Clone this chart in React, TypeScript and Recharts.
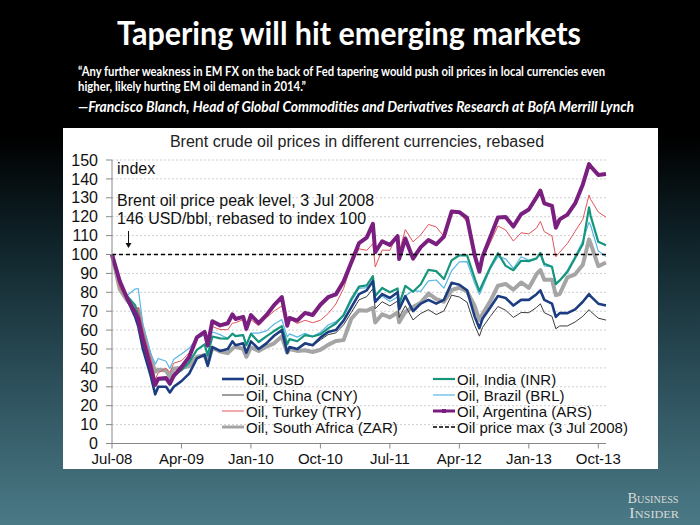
import React from "react";
import { LineChart, Line, XAxis, YAxis, CartesianGrid, ReferenceLine } from "recharts";

// months since 3 Jul 2008
const months = [
  0, 1, 2, 3, 3.4, 4, 5, 5.6, 6, 7, 7.5, 8, 9, 10, 11, 12, 12.4, 13, 14, 15,
  15.6, 16, 17, 17.4, 18, 19, 20, 21, 22, 22.7, 23, 24, 25, 26, 27, 28, 29, 30, 31, 32,
  33, 33.8, 34.1, 35, 36, 37, 37.2, 38, 39, 40, 41, 42, 43, 44, 45, 46, 47, 47.6, 48, 49,
  50, 51, 52, 53, 54, 55, 55.5, 56, 57, 57.5, 58, 59, 60, 61, 61.8, 62, 63, 64,
];

const oilUsd = [
  100, 86, 76, 67, 62, 50, 36, 26, 30, 30, 27, 30, 33, 37, 45, 47, 41, 51, 49, 50,
  54, 52, 53, 48, 54, 50, 53, 57, 60, 48, 51, 50, 53, 52, 56, 59, 60, 65, 72, 79,
  81, 86, 75, 79, 77, 80, 71, 78, 70, 74, 76, 74, 76, 85, 84, 81, 67, 61, 66, 72,
  78, 77, 73, 76, 76, 79, 81, 76, 74, 67, 69, 69, 71, 75, 79, 78, 74, 73,
];
const oilCny = [
  100, 86, 76, 67, 62, 50, 36, 26, 30, 30, 27, 30, 33, 37, 45, 47, 41, 51, 49, 50,
  54, 52, 53, 48, 54, 50, 53, 57, 60, 48, 51, 49.6, 52.5, 51.8, 54.8, 57.6, 58.5, 62.8, 69.3, 76,
  77.7, 81.9, 71.3, 75, 72.8, 75.4, 66.7, 72.9, 65.4, 68.8, 70.8, 68.2, 70.1, 78.5, 77.5, 74.7, 62.4, 56.8, 61.4, 67.2,
  72.5, 70.5, 66.7, 69.3, 69.2, 72, 73.9, 69.2, 67.3, 60.7, 62.2, 62.2, 64.3, 67.3, 70.8, 69.9, 66.3, 65.3,
];
const oilInr = [
  100, 84.8, 77.8, 73.1, 68, 57, 41.4, 32, 33.8, 34, 31, 35.9, 38.8, 43, 49.5, 52.5, 46.5, 56.6, 55.6, 55.5,
  58.1, 56.8, 57.3, 52, 58, 53.7, 56.7, 59.5, 62.1, 52.5, 55.2, 54.1, 57.3, 56.6, 57.8, 60.9, 63.5, 68, 76.4, 83,
  83.7, 88.6, 78, 82.3, 80, 82, 73.5, 83.4, 80.3, 84.3, 91.9, 91.2, 87, 96.9, 99.6, 99.5, 87.2, 80.6, 84.4, 93.1,
  100.7, 94, 91.7, 96.7, 96.5, 97.9, 100.8, 95.1, 93.5, 84.3, 86.3, 90.7, 98.2, 105.5, 124.9, 120.6, 106.7, 104.9,
];
const oilBrl = [
  100, 84.4, 78.4, 81.7, 82, 63, 48, 42, 45, 43.5, 39.7, 44.6, 47.4, 50.4, 55.7, 57.3, 50.7, 59, 57.6, 55.6,
  58, 56.9, 57.6, 52.5, 58.4, 58.4, 59.6, 63.1, 65.6, 56.4, 58, 56.3, 58.3, 56.6, 58.8, 62.7, 64.5, 67.4, 75.2, 82,
  82.5, 84.9, 75, 78, 75.1, 77.5, 71, 78, 80.9, 80.5, 86, 86.5, 82.2, 91.4, 96.1, 96.2, 84.6, 78.9, 82.5, 92.3,
  98.9, 97.7, 92.6, 98.8, 96.9, 98.3, 99.7, 94, 93.4, 85, 86.3, 91.8, 99, 107.3, 117, 115.5, 101.8, 99,
];
const oilTry = [
  100, 82.5, 75.4, 70.3, 72, 60, 45, 34, 37.4, 39.8, 37.6, 42.5, 43.8, 47.9, 56.8, 59.3, 52.1, 61.9, 60.3, 60.2,
  63.7, 63.9, 65.6, 59.4, 65.5, 62.3, 66.5, 70.1, 72.8, 62.9, 66, 63.5, 65.2, 63.9, 65.2, 68.7, 73.8, 82, 94.4, 103,
  102.2, 105.7, 93.4, 102.3, 102.2, 110.8, 101.3, 113.2, 106.7, 110.4, 115.9, 114.6, 109.6, 121.9, 122.6, 116.9, 100.5, 91, 97.4, 106.2,
  115.1, 113, 107.1, 111.5, 110.9, 114, 117.5, 112.1, 109.8, 98.8, 101.2, 105.8, 112.3, 118.6, 131.5, 129.2, 122.5, 119.7,
];
const oilArs = [
  100, 86, 76.5, 69.2, 66, 55, 40.5, 31, 34.3, 34.6, 31.7, 35.8, 40.4, 45.8, 56.2, 59.1, 51.9, 64.7, 62.5, 63.6,
  68.3, 65.9, 67, 60.7, 67.9, 63.7, 67.9, 73.2, 77.5, 62.3, 66.4, 65, 69.1, 68, 73.4, 77.4, 78.9, 85.7, 95.8, 106,
  108.9, 116.2, 101.3, 107, 105, 109.7, 97.6, 108.5, 97.8, 103.9, 107.7, 105.4, 109.5, 122.7, 122.4, 119.4, 99.4, 90.9, 98.8, 109.2,
  119.6, 119.8, 114.8, 121.3, 123.8, 130.3, 133.8, 127.1, 125.7, 114.2, 118.6, 121.1, 127, 137.1, 147.8, 146.7, 142.1, 142.6,
];
const oilZar = [
  100, 81.6, 75.5, 70.8, 71, 60, 45, 38, 39, 38.6, 35.1, 39.7, 39.9, 41, 45.9, 46.7, 42.3, 50.7, 48.7, 47.8,
  50.2, 51.3, 50, 45.9, 50.9, 49, 51.3, 53, 56.6, 48, 50, 49, 49.3, 48.4, 49.6, 52.2, 54.2, 54.7, 66, 70.5,
  70.2, 71.8, 64, 68.4, 66.7, 69.3, 64.2, 69.6, 72.2, 74.5, 79.4, 76.4, 75, 81.2, 82.4, 80.5, 72.6, 65.3, 68.5, 75.2,
  83.5, 84.4, 81.4, 85.2, 82.3, 89.6, 91.8, 86.6, 86.7, 78.5, 79.1, 87.9, 89.5, 94.6, 108, 106, 93.8, 95.8,
];

const peakLevel = 100;
const xTicks = [0, 9, 18, 27, 36, 45, 54, 63];
const xTickLabels = ["Jul-08", "Apr-09", "Jan-10", "Oct-10", "Jul-11", "Apr-12", "Jan-13", "Oct-13"];
const yTicks = [0, 10, 20, 30, 40, 50, 60, 70, 80, 90, 100, 110, 120, 130, 140, 150];

const rows = months.map((t, i) => ({
  t,
  usd: oilUsd[i],
  cny: oilCny[i],
  inr: oilInr[i],
  brl: oilBrl[i],
  try: oilTry[i],
  ars: oilArs[i],
  zar: oilZar[i],
}));

const SANS = "'Liberation Sans', Arial, sans-serif";

// drawing order, bottom first
const series = [
  { key: "zar", name: "Oil, South Africa (ZAR)", color: "#a5a5a5", width: 4 },
  { key: "cny", name: "Oil, China (CNY)", color: "#3c3c3c", width: 1 },
  { key: "brl", name: "Oil, Brazil (BRL)", color: "#5ab6e6", width: 1.2 },
  { key: "inr", name: "Oil, India (INR)", color: "#16967d", width: 2.2 },
  { key: "usd", name: "Oil, USD", color: "#1c3d82", width: 2.6 },
  { key: "try", name: "Oil, Turkey (TRY)", color: "#e2545c", width: 1 },
  { key: "ars", name: "Oil, Argentina (ARS)", color: "#7a1f80", width: 4 },
];

const legendLeft = ["usd", "cny", "try", "zar"];
const legendRight = ["inr", "brl", "ars", "max"];

function LegendRow({ id, x, y }: { id: string; x: number; y: number }) {
  const s = series.find((d) => d.key === id);
  const name = s ? s.name : "Oil price max (3 Jul 2008)";
  return (
    <div
      style={{
        position: "absolute",
        left: x,
        top: y - 9,
        height: 18,
        display: "flex",
        alignItems: "center",
        fontFamily: SANS,
        fontSize: 15,
        color: "#111",
        whiteSpace: "nowrap",
      }}
    >
      <svg width={23} height={10} style={{ marginRight: 1 }}>
        {s ? (
          <line x1={0} y1={5} x2={22} y2={5} stroke={s.color} strokeWidth={Math.min(s.width, 3)} />
        ) : (
          <line x1={0} y1={5} x2={22} y2={5} stroke="#000" strokeWidth={1.5} strokeDasharray="4 2" />
        )}
        {id === "ars" && <rect x={9} y={3} width={4} height={4} fill="#7a1f80" />}
      </svg>
      {name}
    </div>
  );
}

export default function App() {
  return (
    <div
      style={{
        position: "absolute",
        left: 0,
        top: 0,
        width: 700,
        height: 525,
        overflow: "hidden",
        background:
          "linear-gradient(to bottom, #000 0%, #000 26%, #0e2127 45%, #294b56 70%, #4a7a86 100%)",
      }}
    >
      <div style={{ position: "absolute", left: 63, top: 128, width: 595, height: 341, background: "#fff" }} />

      <div style={{ position: "absolute", left: 0, top: 0 }}>
        <LineChart
          width={700}
          height={525}
          data={rows}
          margin={{ top: 160, right: 94, bottom: 51.5, left: 62 }}
        >
          <CartesianGrid vertical={false} stroke="#cfcfcf" strokeDasharray="2 2" />
          <XAxis
            dataKey="t"
            type="number"
            domain={[0, 64]}
            ticks={xTicks}
            interval={0}
            height={30}
            tickSize={5}
            tickMargin={5}
            stroke="#888"
            tick={{ fontSize: 15, fill: "#111", fontFamily: SANS }}
            tickFormatter={(v: number) => xTickLabels[xTicks.indexOf(v)]}
          />
          <YAxis
            domain={[0, 150]}
            ticks={yTicks}
            interval={0}
            width={50}
            tickSize={6}
            tickMargin={8}
            stroke="#888"
            tick={{ fontSize: 16, fill: "#111", fontFamily: SANS }}
          />
          {series.map((s) => (
            <Line
              key={s.key}
              type="linear"
              dataKey={s.key}
              stroke={s.color}
              strokeWidth={s.width}
              dot={false}
              strokeLinejoin="round"
              isAnimationActive={false}
            />
          ))}
          <ReferenceLine y={peakLevel} stroke="#000" strokeWidth={1.5} strokeDasharray="4 3" />
        </LineChart>
      </div>

      <svg width={700} height={525} style={{ position: "absolute", left: 0, top: 0, pointerEvents: "none" }}>
        <text x={349} y={45} fill="#fff" textAnchor="middle" fontFamily="Lato, 'Open Sans', sans-serif"
          fontWeight={700} fontSize={33} textLength={464} lengthAdjust="spacingAndGlyphs">
          Tapering will hit emerging markets
        </text>
        <text x={78} y={76} fill="#fff" fontFamily="Lato, 'Open Sans', sans-serif" fontWeight={700}
          fontSize={12.5} textLength={527} lengthAdjust="spacingAndGlyphs">
          “Any further weakness in EM FX on the back of Fed tapering would push oil prices in local currencies even
        </text>
        <text x={78} y={91} fill="#fff" fontFamily="Lato, 'Open Sans', sans-serif" fontWeight={700}
          fontSize={12.5} textLength={228} lengthAdjust="spacingAndGlyphs">
          higher, likely hurting EM oil demand in 2014.”
        </text>
        <text x={78} y={112} fill="#fff" fontFamily="Lato, 'Open Sans', sans-serif" fontWeight={700}
          fontStyle="italic" fontSize={14.5} textLength={556} lengthAdjust="spacingAndGlyphs">
          —Francisco Blanch, Head of Global Commodities and Derivatives Research at BofA Merrill  Lynch
        </text>

        <text x={357} y={147} fill="#222" textAnchor="middle" fontFamily={SANS} fontSize={16}>
          Brent crude oil prices in different currencies, rebased
        </text>
        <text x={117} y={174} fill="#111" fontFamily={SANS} fontSize={16}>index</text>
        <text x={117} y={206} fill="#111" fontFamily={SANS} fontSize={16}>
          Brent oil price peak level, 3 Jul 2008
        </text>
        <text x={117} y={224} fill="#111" fontFamily={SANS} fontSize={16}>
          146 USD/bbl, rebased to index 100
        </text>
        <line x1={128.5} y1={231} x2={128.5} y2={244} stroke="#111" strokeWidth={1} />
        <path d="M125.5,243 L131.5,243 L128.5,248 Z" fill="#111" />

        <text x={653} y={503} fill="#d9d9d9" textAnchor="middle" fontFamily="'Liberation Serif', serif"
          fontSize={14} style={{ fontVariant: "small-caps" }} textLength={51} lengthAdjust="spacingAndGlyphs">
          Business
        </text>
        <text x={654} y={518} fill="#d9d9d9" textAnchor="middle" fontFamily="'Liberation Serif', serif"
          fontSize={14} style={{ fontVariant: "small-caps" }} textLength={50} lengthAdjust="spacingAndGlyphs">
          Insider
        </text>
      </svg>

      {legendLeft.map((id, i) => (
        <LegendRow key={id} id={id} x={222} y={379 + i * 16} />
      ))}
      {legendRight.map((id, i) => (
        <LegendRow key={id} id={id} x={433} y={379 + i * 16} />
      ))}
    </div>
  );
}
